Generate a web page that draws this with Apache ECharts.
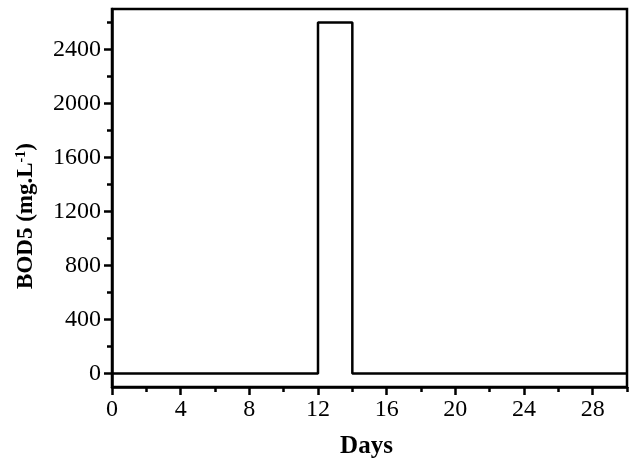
<!DOCTYPE html>
<html>
<head>
<meta charset="utf-8">
<script src="https://cdn.jsdelivr.net/npm/echarts@6/dist/echarts.min.js"></script>
<style>html,body{margin:0;padding:0;background:#fff}#c{width:630px;height:465px}</style>
</head>
<body>
<div id="c"></div>
<script>
// Data
var days = [0, 12, 12, 14, 14, 30];
var bod5 = [0, 0, 2600, 2600, 0, 0];
var xMajorTicks = [0, 4, 8, 12, 16, 20, 24, 28];
var xMinorTicks = [2, 6, 10, 14, 18, 22, 26, 30];
var yMajorTicks = [0, 400, 800, 1200, 1600, 2000, 2400];
var yMinorTicks = [200, 600, 1000, 1400, 1800, 2200, 2600];

var points = days.map(function (d, i) { return [d, bod5[i]]; });
var font = 'Liberation Serif';
var plain = function (v) { return String(v); };
var chart = echarts.init(document.getElementById('c'));
chart.setOption({
  animation: false,
  grid: { left: 112, right: 3, top: 9, bottom: 78, show: true, borderColor: '#000', borderWidth: 2.5, backgroundColor: 'transparent' },
  xAxis: [{
    type: 'value', min: 0, max: 30, position: 'bottom',
    name: 'Days', nameLocation: 'middle', nameGap: 47,
    nameTextStyle: { fontFamily: font, fontWeight: 'bold', fontSize: 25, color: '#000', padding: [0, 6, 0, 0] },
    axisLine: { show: true, onZero: false, lineStyle: { color: '#000', width: 2.5 } },
    axisTick: { show: true, inside: false, length: 8, lineStyle: { color: '#000', width: 2.5 }, customValues: xMajorTicks },
    axisLabel: { show: true, margin: 11, fontFamily: font, fontSize: 24, color: '#000', customValues: xMajorTicks, formatter: plain },
    splitLine: { show: false }
  }, {
    type: 'value', min: 0, max: 30, position: 'bottom', gridIndex: 0,
    axisLine: { show: false, onZero: false },
    axisTick: { show: true, inside: false, length: 5, lineStyle: { color: '#000', width: 2.5 }, customValues: xMinorTicks },
    axisLabel: { show: false },
    splitLine: { show: false }
  }],
  yAxis: [{
    type: 'value', min: -100, max: 2700, position: 'left',
    name: '{b|BOD5 (mg.L}{s|-1}{b|)}', nameLocation: 'middle', nameGap: 74,
    nameTextStyle: { fontFamily: font, fontWeight: 'bold', fontSize: 23, color: '#000', padding: [0, 36, 0, 0],
      rich: { b: { fontFamily: font, fontWeight: 'bold', fontSize: 23, color: '#000' },
              s: { fontFamily: font, fontWeight: 'bold', fontSize: 14, color: '#000', verticalAlign: 'top', padding: [0, 0, 10, 0] } } },
    axisLine: { show: true, onZero: false, lineStyle: { color: '#000', width: 2.5 } },
    axisTick: { show: true, inside: false, length: 8, lineStyle: { color: '#000', width: 2.5 }, customValues: yMajorTicks },
    axisLabel: { show: true, margin: 11, fontFamily: font, fontSize: 24, color: '#000', customValues: yMajorTicks, formatter: plain },
    splitLine: { show: false }
  }, {
    type: 'value', min: -100, max: 2700, position: 'left', offset: 0,
    axisLine: { show: false, onZero: false },
    axisTick: { show: true, inside: false, length: 5, lineStyle: { color: '#000', width: 2.5 }, customValues: yMinorTicks },
    axisLabel: { show: false },
    splitLine: { show: false }
  }],
  series: [{
    type: 'line', xAxisIndex: 0, yAxisIndex: 0,
    data: points, showSymbol: false, symbol: 'none',
    lineStyle: { color: '#000', width: 2.5 }
  }]
});
</script>
</body>
</html>
